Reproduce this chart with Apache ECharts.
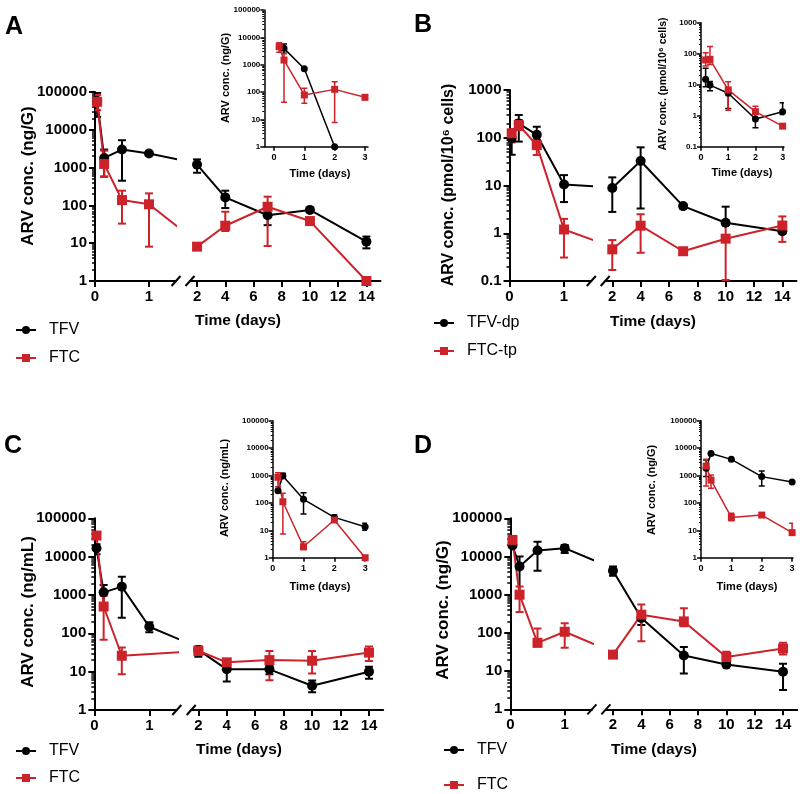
<!DOCTYPE html>
<html><head><meta charset="utf-8">
<script src="https://cdn.jsdelivr.net/npm/echarts@6/dist/echarts.min.js"></script>
<style>html,body{margin:0;padding:0;background:#fff}#c{width:800px;height:794px}</style>
</head><body><div id="c"></div>
<script>
const FONT = 'Liberation Sans, Arial, Helvetica, sans-serif';
const BLACK = '#000000', RED = '#cc2229';

// ---- time points and tick labels ----
const mainTimes = [0.04, 0.17, 0.5, 1, 2, 4, 7, 10, 14];
const insetTimes = [0.17, 0.33, 1, 2, 3];
const mainTicksLeft = [0, 1];
const mainTicksRight = [2, 4, 6, 8, 10, 12, 14];
const insetTicks = [0, 1, 2, 3];
const yTicksWide = [1, 10, 100, 1000, 10000, 100000];
const yTicksCells = [0.1, 1, 10, 100, 1000];

// ---- Panel A (ng/G) ----
const A_TFV    = [58000, 1800, 3000, 2350, 1200, 163, 55, 76, 11];
const A_TFV_lo = [22000, 575, 450, null, 730, 85, 30, null, 7.3];
const A_TFV_hi = [95000, 3000, 5300, null, 1650, 245, 75, null, 15];
const A_FTC    = [55000, 1250, 138, 107, 8.1, 29, 92, 38.5, 1];
const A_FTC_lo = [33000, 580, 33, 8.1, null, 21, 8.4, 33, null];
const A_FTC_hi = [83000, 2800, 245, 208, null, 68, 170, 45, null];
const Ai_TFV    = [null, 3950, 715, 1, null];
const Ai_TFV_lo = [null, 2600, null, null, null];
const Ai_TFV_hi = [null, 5700, null, null, null];
const Ai_FTC    = [4560, 1480, 78, 125, 64];
const Ai_FTC_lo = [2830, 42, 39, 7.6, null];
const Ai_FTC_hi = [6300, 2500, 136, 240, null];

// ---- Panel B (pmol/10^6 cells) ----
const B_TFV    = [97, 200, 115, 10.5, 8.9, 32.5, 3.7, 1.66, 1.1];
const B_TFV_lo = [44, 83, 60, 4.5, 2.8, 3.3, 3.3, 1.5, 1.0];
const B_TFV_hi = [150, 300, 170, 16.5, 14.8, 63, 4.1, 3.6, 1.25];
const B_FTC    = [124, 185, 70, 1.2, 0.46, 1.44, 0.42, 0.77, 1.45];
const B_FTC_lo = [80, 145, 43.5, 0.31, 0.17, 0.39, 0.38, 0.105, 0.66];
const B_FTC_hi = [150, 235, 90, 2.0, 0.72, 2.5, 0.47, 1.5, 2.25];
const Bi_TFV    = [15, 9.7, 5.3, 0.78, 1.35];
const Bi_TFV_lo = [8.6, 6.4, 1.7, 0.41, 1.1];
const Bi_TFV_hi = [34, 12.6, 7.6, 1.2, 2.6];
const Bi_FTC    = [63, 66, 6.8, 1.35, 0.46];
const Bi_FTC_lo = [40, 45, 1.5, 0.8, null];
const Bi_FTC_hi = [107, 170, 12.5, 2.0, null];

// ---- Panel C (ng/mL) ----
const C_TFV    = [16600, 1170, 1650, 148, 37, 11.5, 11.5, 4.3, 10];
const C_TFV_lo = [11500, 430, 255, 107, 24.5, 5.5, 8.5, 2.9, 6.5];
const C_TFV_hi = [21000, 1820, 3000, 193, 45, 16.5, 14, 5.9, 13.5];
const C_FTC    = [35500, 500, 26, null, 35, 17.5, 20, 19.3, 31.5];
const C_FTC_lo = [null, 68, 8.5, null, 27, 14, 6, 9, 19];
const C_FTC_hi = [null, 950, 42.5, null, 45, 21, 34.5, 34.5, 45];
const Ci_TFV    = [280, 960, 135, 29.6, 13.5];
const Ci_TFV_lo = [null, 800, 39, 23.7, 10];
const Ci_TFV_hi = [null, 1200, 235, 36, 18];
const Ci_FTC    = [860, 110, 2.5, 23.7, 1];
const Ci_FTC_lo = [390, 7.3, 2.0, null, null];
const Ci_FTC_hi = [1260, 224, 3.8, null, null];

// ---- Panel D (ng/G) ----
const D_TFV    = [19400, 5500, 14400, 16500, 4250, 245, 25.5, 14.8, 9.6];
const D_TFV_lo = [null, 950, 4250, 12300, 3150, 160, 8.7, null, 3.2];
const D_TFV_hi = [null, 10000, 24500, 20000, 5500, 330, 42.5, null, 15.5];
const D_FTC    = [27200, 1000, 55, 107, 27, 300, 200, 23.5, 39];
const D_FTC_lo = [null, 350, 45, 41, null, 60, 150, 18, 27];
const D_FTC_hi = [null, 1650, 130, 178, null, 550, 445, 32, 55];
const Di_TFV    = [1820, 6400, 3880, 910, 580];
const Di_TFV_lo = [910, null, null, 415, null];
const Di_TFV_hi = [3650, null, null, 1450, null];
const Di_FTC    = [2200, 680, 29.6, 36, 8.2];
const Di_FTC_lo = [415, 340, 22.4, null, 6.7];
const Di_FTC_hi = [3900, 1050, 41.5, null, 18];

// ---------------------------------------------------------------
const option = {
  animation: false,
  textStyle: { fontFamily: FONT },
  grid: [], xAxis: [], yAxis: [], series: [], legend: [], graphic: []
};

function fmtY(v) { return v < 1 ? String(+v.toFixed(1)) : String(Math.round(v)); }
function minorVals(ymin, ymax) {
  const out = [];
  for (let d = ymin; d < ymax * 0.999; d *= 10)
    for (let k = 2; k <= 9; k++) out.push(+(k * d).toPrecision(4));
  return out;
}
function addGrid(r) {
  option.grid.push({ left: r.left, top: r.top, width: r.width, height: r.height,
    containLabel: false, outerBoundsMode: 'none' });
  return option.grid.length - 1;
}
function addX(g, min, max, ticks, s) {
  option.xAxis.push({
    type: 'value', gridIndex: g, min: min, max: max,
    axisLine: { show: true, onZero: false, lineStyle: { color: '#000', width: s.lw } },
    axisTick: { show: true, customValues: ticks, length: s.tl, lineStyle: { color: '#000', width: s.lw } },
    axisLabel: { show: true, customValues: ticks, fontSize: s.xfs, fontWeight: 'bold', color: '#000',
      fontFamily: FONT, margin: s.xm },
    splitLine: { show: false }
  });
  return option.xAxis.length - 1;
}
function addY(g, min, max, ticks, s, show) {
  option.yAxis.push({
    type: 'log', logBase: 10, gridIndex: g, min: min, max: max, show: show,
    axisLine: { show: true, onZero: false, lineStyle: { color: '#000', width: s.lw } },
    axisTick: { show: true, customValues: ticks, length: s.tl, lineStyle: { color: '#000', width: s.lw } },
    axisLabel: { show: true, customValues: ticks, formatter: fmtY, fontSize: s.yfs, fontWeight: 'bold',
      color: '#000', fontFamily: FONT, margin: s.ym },
    splitLine: { show: false }
  });
  const main = option.yAxis.length - 1;
  if (show) {
    option.yAxis.push({
      type: 'log', logBase: 10, gridIndex: g, min: min, max: max, position: 'left',
      axisLine: { show: false, onZero: false },
      axisTick: { show: true, customValues: minorVals(min, max), length: s.tl * 0.5,
        lineStyle: { color: '#000', width: s.lw * 0.75 } },
      axisLabel: { show: false },
      splitLine: { show: false }
    });
  }
  return main;
}
function pts(times, vals, xmin) {
  const out = [];
  times.forEach((t, i) => { if (vals[i] != null && t >= xmin) out.push([t, vals[i]]); });
  return out;
}
function errs(times, vals, lo, hi, xmin, xmax) {
  const out = [];
  times.forEach((t, i) => {
    if (vals[i] == null || t < xmin || t > xmax) return;
    const l = lo[i] != null ? lo[i] : vals[i];
    const h = hi[i] != null ? hi[i] : vals[i];
    if (l === h) return;
    out.push([t, l, h]);
  });
  return out;
}
function errRender(cap, lw, color) {
  return function (params, api) {
    const x = api.value(0);
    const a = api.coord([x, api.value(1)]);
    const b = api.coord([x, api.value(2)]);
    const st = { stroke: color, lineWidth: lw, fill: null };
    return { type: 'group', children: [
      { type: 'line', shape: { x1: a[0], y1: a[1], x2: b[0], y2: b[1] }, style: st },
      { type: 'line', shape: { x1: a[0] - cap, y1: a[1], x2: a[0] + cap, y2: a[1] }, style: st },
      { type: 'line', shape: { x1: b[0] - cap, y1: b[1], x2: b[0] + cap, y2: b[1] }, style: st }
    ] };
  };
}
function addSeries(name, color, symbol, size, lw, cap, xi, yi, times, vals, lo, hi, xmin, xmax, lineFrom) {
  option.series.push({
    type: 'custom', name: '_err_' + name, xAxisIndex: xi, yAxisIndex: yi, clip: true, z: 2,
    renderItem: errRender(cap, lw, color), encode: { x: 0, y: [1, 2] },
    data: errs(times, vals, lo, hi, xmin, xmax), silent: true
  });
  option.series.push({
    type: 'line', name: name, xAxisIndex: xi, yAxisIndex: yi, clip: true, z: 3,
    data: pts(times, vals, lineFrom), symbol: symbol, symbolSize: size, showAllSymbol: true,
    lineStyle: { color: color, width: lw }, itemStyle: { color: color, borderWidth: 0 },
    emphasis: { disabled: true }, silent: true
  });
}
function text(t, x, y, font, rot) {
  option.graphic.push({ type: 'text', x: x, y: y, rotation: rot || 0, silent: true,
    style: { text: t, font: font, fill: '#000', align: 'center', verticalAlign: 'middle',
      textAlign: 'center', textVerticalAlign: 'middle' } });
}
function slash(cx, cy) {
  option.graphic.push({ type: 'line', silent: true,
    shape: { x1: cx - 4.5, y1: cy + 5, x2: cx + 4.5, y2: cy - 5 },
    style: { stroke: '#000', lineWidth: 2 } });
}

const MS = { lw: 2, tl: 6, xfs: 15, yfs: 15, xm: 8, ym: 8 };
const IS = { lw: 1.5, tl: 4, xfs: 9, yfs: 8, xm: 6, ym: 4 };

function panel(p) {
  const g1 = addGrid(p.g1), g2 = addGrid(p.g2), gi = addGrid(p.gi);
  const x1 = addX(g1, 0, 1.5, mainTicksLeft, MS);
  const x2 = addX(g2, 1.5, 15, mainTicksRight, MS);
  const xi = addX(gi, p.ix[0], p.ix[1], insetTicks, IS);
  const y1 = addY(g1, p.y[0], p.y[1], p.yt, MS, true);
  const y2 = addY(g2, p.y[0], p.y[1], p.yt, MS, false);
  const yi = addY(gi, p.y[0], p.y[1], p.yt, IS, true);
  p.series.forEach(s => {
    addSeries(s.name, s.color, s.symbol, 10, 2, 4, x1, y1, mainTimes, s.v, s.lo, s.hi, 0, 1.5, 0);
    addSeries(s.name, s.color, s.symbol, 10, 2, 4, x2, y2, mainTimes, s.v, s.lo, s.hi, 1.5, 15, 1.5);
    addSeries(s.name, s.color, s.symbol, 7, 1.5, 3, xi, yi, insetTimes, s.iv, s.ilo, s.ihi, p.ix[0], p.ix[1], 0);
  });
  option.legend.push({
    orient: 'vertical', left: p.leg[0], top: p.leg[1], padding: 0, itemWidth: 20, itemHeight: 10,
    itemGap: p.leg[2], selectedMode: false, data: p.series.map(s => s.name),
    textStyle: { fontSize: 16, color: '#000', fontFamily: FONT, padding: [0, 0, 0, 8] }
  });
  text(p.letter, p.L[0], p.L[1], 'bold 25px ' + FONT);
  text(p.ytitle, p.yT[0], p.yT[1], 'bold ' + p.yTs + 'px ' + FONT, Math.PI / 2);
  text('Time (days)', p.xT[0], p.xT[1], 'bold 15.5px ' + FONT);
  text(p.iytitle, p.iyT[0], p.iyT[1], 'bold ' + p.iyTs + 'px ' + FONT, Math.PI / 2);
  text('Time (days)', p.ixT[0], p.ixT[1], 'bold 11px ' + FONT);
  slash(p.g1.left + p.g1.width, p.g1.top + p.g1.height);
  slash(p.g2.left, p.g2.top + p.g2.height);
}

panel({
  letter: 'A', L: [14, 27],
  g1: { left: 95, top: 92, width: 81, height: 189 },
  g2: { left: 190, top: 92, width: 190.5, height: 189 },
  gi: { left: 264.3, top: 10, width: 103.7, height: 136.7 }, ix: [-0.32, 3.1],
  y: [1, 100000], yt: yTicksWide,
  ytitle: 'ARV conc. (ng/G)', yT: [28, 176], yTs: 17,
  xT: [238, 321],
  iytitle: 'ARV conc. (ng/G)', iyT: [226, 78], iyTs: 11,
  ixT: [320, 174],
  leg: [15, 322, 12],
  series: [
    { name: 'TFV', color: BLACK, symbol: 'circle', v: A_TFV, lo: A_TFV_lo, hi: A_TFV_hi, iv: Ai_TFV, ilo: Ai_TFV_lo, ihi: Ai_TFV_hi },
    { name: 'FTC', color: RED, symbol: 'rect', v: A_FTC, lo: A_FTC_lo, hi: A_FTC_hi, iv: Ai_FTC, ilo: Ai_FTC_lo, ihi: Ai_FTC_hi }
  ]
});
panel({
  letter: 'B', L: [423, 25],
  g1: { left: 509.5, top: 90, width: 81.8, height: 191 },
  g2: { left: 605.2, top: 90, width: 191.3, height: 191 },
  gi: { left: 701, top: 22.7, width: 83, height: 124 }, ix: [0, 3.05],
  y: [0.1, 1000], yt: yTicksCells,
  ytitle: 'ARV conc. (pmol/10\u2076 cells)', yT: [449, 185], yTs: 16,
  xT: [653, 322],
  iytitle: 'ARV conc. (pmol/10\u2076 cells)', iyT: [663, 84], iyTs: 10.5,
  ixT: [742, 173],
  leg: [433, 315, 12],
  series: [
    { name: 'TFV-dp', color: BLACK, symbol: 'circle', v: B_TFV, lo: B_TFV_lo, hi: B_TFV_hi, iv: Bi_TFV, ilo: Bi_TFV_lo, ihi: Bi_TFV_hi },
    { name: 'FTC-tp', color: RED, symbol: 'rect', v: B_FTC, lo: B_FTC_lo, hi: B_FTC_hi, iv: Bi_FTC, ilo: Bi_FTC_lo, ihi: Bi_FTC_hi }
  ]
});
panel({
  letter: 'C', L: [13, 446],
  g1: { left: 94.3, top: 518.3, width: 82.5, height: 191.7 },
  g2: { left: 191.2, top: 518.3, width: 192, height: 191.7 },
  gi: { left: 272.7, top: 420.7, width: 94, height: 137 }, ix: [0, 3.05],
  y: [1, 100000], yt: yTicksWide,
  ytitle: 'ARV conc. (ng/mL)', yT: [28, 612], yTs: 17,
  xT: [239, 750],
  iytitle: 'ARV conc. (ng/mL)', iyT: [225, 488], iyTs: 11,
  ixT: [320, 587],
  leg: [15, 743, 11],
  series: [
    { name: 'TFV', color: BLACK, symbol: 'circle', v: C_TFV, lo: C_TFV_lo, hi: C_TFV_hi, iv: Ci_TFV, ilo: Ci_TFV_lo, ihi: Ci_TFV_hi },
    { name: 'FTC', color: RED, symbol: 'rect', v: C_FTC, lo: C_FTC_lo, hi: C_FTC_hi, iv: Ci_FTC, ilo: Ci_FTC_lo, ihi: Ci_FTC_hi }
  ]
});
panel({
  letter: 'D', L: [423, 446],
  g1: { left: 510.3, top: 518.3, width: 81.6, height: 191 },
  g2: { left: 605.9, top: 518.3, width: 191.3, height: 191 },
  gi: { left: 701, top: 420.7, width: 92, height: 137 }, ix: [0, 3.03],
  y: [1, 100000], yt: yTicksWide,
  ytitle: 'ARV conc. (ng/G)', yT: [443, 610], yTs: 17,
  xT: [654, 750],
  iytitle: 'ARV conc. (ng/G)', iyT: [652, 490], iyTs: 11,
  ixT: [747, 587],
  leg: [443, 742, 19],
  series: [
    { name: 'TFV', color: BLACK, symbol: 'circle', v: D_TFV, lo: D_TFV_lo, hi: D_TFV_hi, iv: Di_TFV, ilo: Di_TFV_lo, ihi: Di_TFV_hi },
    { name: 'FTC', color: RED, symbol: 'rect', v: D_FTC, lo: D_FTC_lo, hi: D_FTC_hi, iv: Di_FTC, ilo: Di_FTC_lo, ihi: Di_FTC_hi }
  ]
});

const chart = echarts.init(document.getElementById('c'), null, { renderer: 'canvas' });
chart.setOption(option);
</script></body></html>
